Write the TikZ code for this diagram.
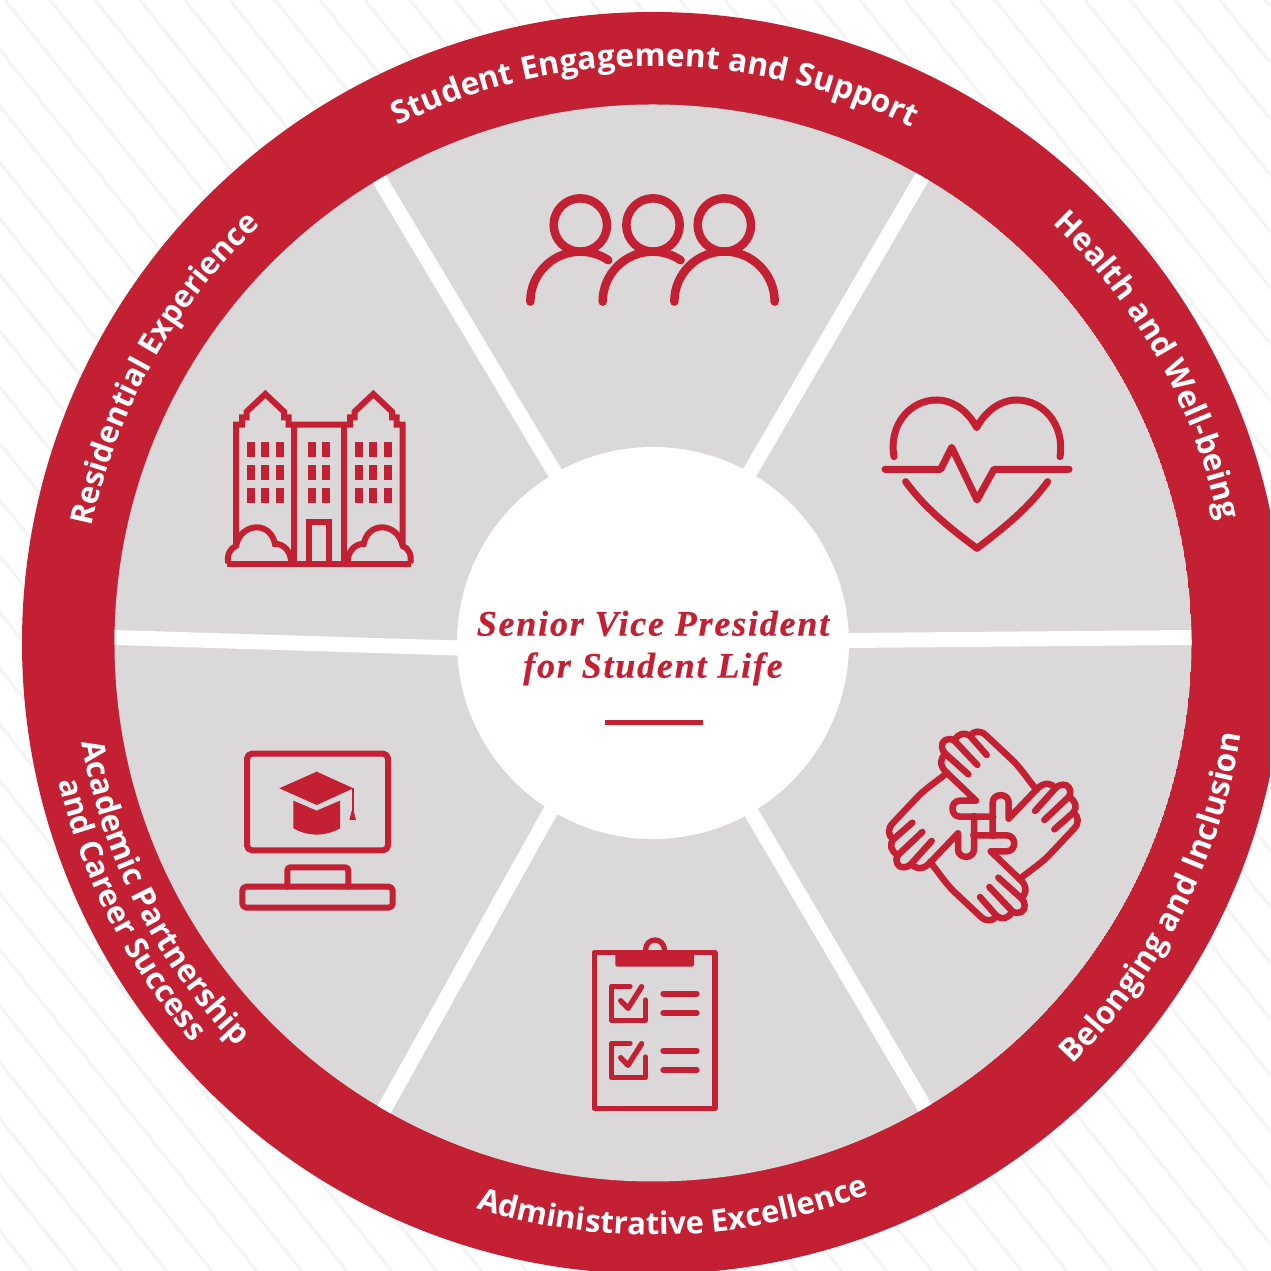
\documentclass[tikz,border=0pt]{standalone}
\usepackage{fontspec}
\usetikzlibrary{decorations.text}
\newfontfamily\bandfont{Open Sans}
\newfontfamily\centrefont{Liberation Serif}[LetterSpace=5,BoldItalicFeatures={FakeBold=0.4}]
\definecolor{crim}{HTML}{C32033}
\definecolor{wedge}{HTML}{DAD8D9}
\definecolor{stripe}{HTML}{F4F4F4}
\newcommand{\bandtext}[5]{% radius, start, end, size, text
  \path[decorate,decoration={text along path,text align=center,
    text={|\bandfont\bfseries\fontsize{#4}{#4}\selectfont\color{white}|#5}}]
    (#2:#1) arc [start angle=#2,end angle=#3,radius=#1];}
\tikzset{
  x=1pt,y=1pt,
  spoke/.style={white,line width=15pt,shorten >=-12pt,shorten <=-12pt},
  icon/.style={crim,line width=6pt,line cap=round,line join=round},
}
\begin{document}
\begin{tikzpicture}
\useasboundingbox (0,0) rectangle (1270,1271);
\clip (0,0) rectangle (1270,1271);
\fill[white] (0,0) rectangle (1270,1271);
\begin{scope}[shift={(0,1271)},yscale=-1]
  % background stripes
  \foreach \i in {-30,...,30}
    \draw[stripe,line width=3pt] ({5+45*\i},0) -- ({5+45*\i+0.8*1271},1271);
  % wheel
  \coordinate (C) at (653,643);
  \fill[crim] (C) circle [radius=631];
  \begin{scope}
    \clip (C) circle [radius=538.5];
    \fill[wedge] (C) circle [radius=538.5];
    \coordinate (tlA) at (381,182);  \coordinate (tlB) at (555,473);
    \coordinate (trA) at (921,179);  \coordinate (trB) at (750,472);
    \coordinate (rA) at (1191,637.5);\coordinate (rB) at (849,640.5);
    \coordinate (lA) at (114,637.5); \coordinate (lB) at (457,648);
    \coordinate (blA) at (385,1108); \coordinate (blB) at (550,812);
    \coordinate (brA) at (924,1106); \coordinate (brB) at (751,812);
    \draw[spoke] (tlA) -- (tlB);
    \draw[spoke] (trA) -- (trB);
    \draw[spoke] (rA) -- (rB);
    \draw[spoke] (lA) -- (lB);
    \draw[spoke] (blA) -- (blB);
    \draw[spoke] (brA) -- (brB);
  \end{scope}
  \fill[white] (C) circle [radius=196];
  % centre text
  \node[text=crim,align=center,inner sep=0pt,
        font=\centrefont\bfseries\itshape\fontsize{36}{42}\selectfont]
    (title) at (653,648) {Senior Vice President\\for Student Life};
  \coordinate (ruleL) at (604.7,722.7);
  \coordinate (ruleR) at (702.7,722.7);
  \draw[crim,line width=5pt] (ruleL) -- (ruleR);

  % people
  \begin{scope}[shift={(510,180)},scale=1/3,icon,line width=8.5pt]
    \draw (211,135) circle [radius=80];
    \draw (429,135) circle [radius=80];
    \draw (643,135) circle [radius=80];
    \draw (61,365) arc [start angle=180,end angle=304,radius=150];
    \draw (278,365) arc [start angle=180,end angle=304,radius=150];
    \draw (493,365) arc [start angle=180,end angle=360,radius=150.5];
  \end{scope}

  % heart
  \begin{scope}[shift={(870,385)},scale=1/3,icon,line width=7pt]
    \draw (72,215) .. controls (55,120) and (120,45) .. (200,45)
       .. controls (250,45) and (295,80) .. (320,128)
       .. controls (345,80) and (390,45) .. (440,45)
       .. controls (520,45) and (585,120) .. (570,215);
    \draw (45,253) -- (212,253) -- (245,187) -- (321,345) -- (372,253) -- (597,253);
    \draw (107,290) .. controls (165,370) and (240,430) .. (321,490)
       .. controls (400,430) and (475,370) .. (533,290);
  \end{scope}

  % hands
  \begin{scope}[shift={(860,710)},scale=1/3]
    \foreach \a in {0,90,180,270} {
    \begin{scope}[rotate around={\a:(370,348)},icon,line width=6.5pt]
      \draw (530,240) .. controls (505,210) and (490,185) .. (462,155) -- (378,76)
        .. controls (362,60) and (340,62) .. (330,78)
        .. controls (315,66) and (295,69) .. (283,92)
        .. controls (265,80) and (243,92) .. (246,110)
        .. controls (246,120) and (250,125) .. (257,132)
        .. controls (241,142) and (237,165) .. (257,185)
        -- (348,272) -- (300,272)
        .. controls (270,272) and (270,320) .. (300,320) -- (400,320);
      \draw (330,78) -- (380,135);
      \draw (283,92) -- (352,165);
      \draw (257,132) -- (325,193);
    \end{scope}
    }
  \end{scope}

  % clipboard
  \begin{scope}[shift={(570,930)},scale=1/3,icon,line width=5.3pt]
    \draw (255,58) ++(-28,0) arc [start angle=180,end angle=360,radius=28];
    \draw (73,68) rectangle (435,535);
    \fill[crim,rounded corners=2pt] (136,68) rectangle (372,110);
    \foreach \dy in {0,171} {
      \draw (180,{169+\dy}) -- (124,{169+\dy}) -- (124,{271+\dy}) -- (226,{271+\dy}) -- (226,{210+\dy});
      \draw (152,{212+\dy}) -- (174,{235+\dy}) -- (215,{170+\dy});
      \draw[line width=6pt] (280,{191+\dy}) -- (380,{191+\dy});
      \draw[line width=6pt] (280,{249+\dy}) -- (380,{249+\dy});
    }
  \end{scope}

  % computer
  \begin{scope}[shift={(225,740)},scale=1/3,icon,line width=6pt]
    \draw[rounded corners=5pt] (66,41) rectangle (489,331);
    \draw[rounded corners=3pt] (187,440) -- (187,382) -- (370,382) -- (370,440);
    \draw[rounded corners=4pt] (52,440) rectangle (503,503);
    \fill[crim] (163,145) -- (275,95) -- (385,145) -- (275,195) -- cycle;
    \fill[crim] (205,182) -- (275,212) -- (345,182) -- (345,265)
       .. controls (300,290) and (250,290) .. (205,265) -- cycle;
    \draw[line width=2pt,line cap=butt] (383,145) -- (383,215);
    \fill[crim] (380,213) -- (386,213) -- (393,240) -- (373,240) -- cycle;
  \end{scope}

  % residence
  \begin{scope}[shift={(210,380)},scale=1/3,icon,line width=6pt,line cap=butt,line join=miter]
    \draw (78,492) -- (78,134) -- (96,134) -- (96,112) -- (110,112) -- (110,95)
      -- (166,42) -- (222,95) -- (222,112) -- (236,112) -- (236,134) -- (420,134)
      -- (420,112) -- (434,112) -- (434,95) -- (490,42) -- (546,95) -- (546,112)
      -- (560,112) -- (560,134) -- (578,134) -- (578,492);
    \draw (252,134) -- (252,550);
    \draw (403,134) -- (403,550);
    \draw (52,551) -- (604,551);
    \draw (297,550) -- (297,425) -- (358,425) -- (358,550);
    \draw (55,550) .. controls (50,525) and (60,505) .. (78,498)
       .. controls (85,460) and (115,442) .. (140,442)
       .. controls (170,442) and (190,465) .. (195,492)
       .. controls (220,490) and (245,515) .. (243,550);
    \draw (601,550) .. controls (606,525) and (596,505) .. (578,498)
       .. controls (571,460) and (541,442) .. (516,442)
       .. controls (486,442) and (466,465) .. (461,492)
       .. controls (436,490) and (411,515) .. (413,550);
    \foreach \wx in {123,165,210,306,348,447,489,534}
      \foreach \wy in {186,255,324}
        \fill[crim] ({\wx-12},\wy) rectangle ({\wx+12},{\wy+45});
  \end{scope}
\end{scope}

% labels along the ring
\begin{scope}[shift={(653,628)}]
  \bandtext{577}{125}{54.6}{31.7}{Student Engagement and Support}
  \bandtext{579}{65.6}{-7}{31.4}{Health and Well-being}
  \bandtext{595}{-65}{11}{31.7}{Belonging and Inclusion}
  \bandtext{592}{-128}{-48}{31}{Administrative Excellence}
  \bandtext{580}{170}{244}{31.5}{Academic Partnership}
  \bandtext{610}{172}{242}{31}{and Career Success}
  \bandtext{573}{190.5}{111}{31}{Residential Experience}
\end{scope}
\end{tikzpicture}
\end{document}
